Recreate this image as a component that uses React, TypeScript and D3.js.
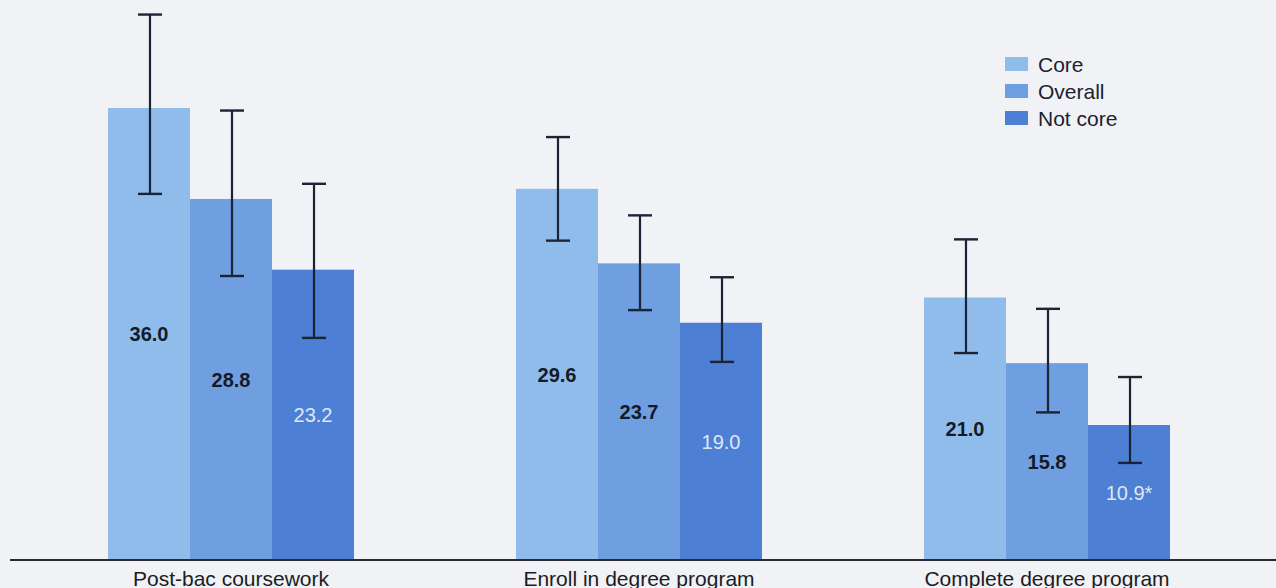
import React from "react";
import * as d3 from "d3";

const categories = ["Post-bac coursework", "Enroll in degree program", "Complete degree program"];
const series = ["Core", "Overall", "Not core"];
const coreValues = [36.0, 29.6, 21.0];
const overallValues = [28.8, 23.7, 15.8];
const notCoreValues = [23.2, 19.0, 10.9];
const coreLower = [29.2, 25.5, 16.6];
const coreUpper = [43.4, 33.7, 25.6];
const overallLower = [22.7, 20.0, 11.9];
const overallUpper = [35.8, 27.5, 20.1];
const notCoreLower = [17.8, 15.9, 7.9];
const notCoreUpper = [30.0, 22.6, 14.7];
const notCoreMarks = ["", "", "*"];

const W = 1276;
const H = 588;
const colors = ["#90bcec", "#6f9ee1", "#4d7fd4"];
const labelColors = ["#141a28", "#141a28", "#dfe7f3"];
const labelWeights = [700, 700, 400];
const font = "'Liberation Sans', Arial, Helvetica, sans-serif";

export default function App() {
  const values = [coreValues, overallValues, notCoreValues];
  const lowers = [coreLower, overallLower, notCoreLower];
  const uppers = [coreUpper, overallUpper, notCoreUpper];

  const x0 = d3.scaleBand<string>().domain(categories).range([27, 1251]).paddingInner(0.397).paddingOuter(0.1985);
  const x1 = d3.scaleBand<string>().domain(series).range([0, x0.bandwidth()]).padding(0);
  const y = d3.scaleLinear().domain([0, 44]).range([562.7, 562.7 - 44 * 12.63]);
  const axisY = 560;
  const capW = 24;

  return (
    <svg width={W} height={H} style={{ position: "absolute", left: 0, top: 0, display: "block" }} fontFamily={font}>
      <rect x={0} y={0} width={W} height={H} fill="#f0f2f6" />
      {categories.map((c, ci) => (
        <g key={c} transform={`translate(${x0(c)},0)`}>
          {series.map((s, si) => {
            const v = values[si][ci];
            const bx = x1(s)!;
            const bw = x1.bandwidth();
            const top = y(v);
            return <rect key={s} x={bx} y={top} width={bw} height={axisY - top} fill={colors[si]} />;
          })}
          {series.map((s, si) => {
            const v = values[si][ci];
            const bx = x1(s)!;
            const bw = x1.bandwidth();
            const top = y(v);
            const cx = bx + bw / 2 + 1;
            const lo = y(lowers[si][ci]);
            const hi = y(uppers[si][ci]);
            return (
              <g key={s + "e"}>
                <line x1={cx} x2={cx} y1={hi} y2={lo} stroke="#1b2334" strokeWidth={2.2} />
                <line x1={cx - capW / 2} x2={cx + capW / 2} y1={hi} y2={hi} stroke="#1b2334" strokeWidth={2.4} />
                <line x1={cx - capW / 2} x2={cx + capW / 2} y1={lo} y2={lo} stroke="#1b2334" strokeWidth={2.4} />
                <text
                  x={bx + bw / 2}
                  y={(top + axisY) / 2}
                  dy="0.36em"
                  textAnchor="middle"
                  fontSize={20}
                  fontWeight={labelWeights[si]}
                  fill={labelColors[si]}
                >
                  {v.toFixed(1) + (si === 2 ? notCoreMarks[ci] : "")}
                </text>
              </g>
            );
          })}
          <text x={x0.bandwidth() / 2} y={586} textAnchor="middle" fontSize={21} fill="#1c1c22">
            {c}
          </text>
        </g>
      ))}
      <line x1={10} x2={W} y1={axisY} y2={axisY} stroke="#2a2a30" strokeWidth={1.8} />
      <g transform="translate(1005,57)">
        {series.map((s, si) => (
          <g key={s} transform={`translate(0,${si * 27})`}>
            <rect x={0} y={0} width={23} height={14} fill={colors[si]} />
            <text x={33} y={7} dy="0.36em" fontSize={21} fill="#1c2230">
              {s}
            </text>
          </g>
        ))}
      </g>
    </svg>
  );
}
